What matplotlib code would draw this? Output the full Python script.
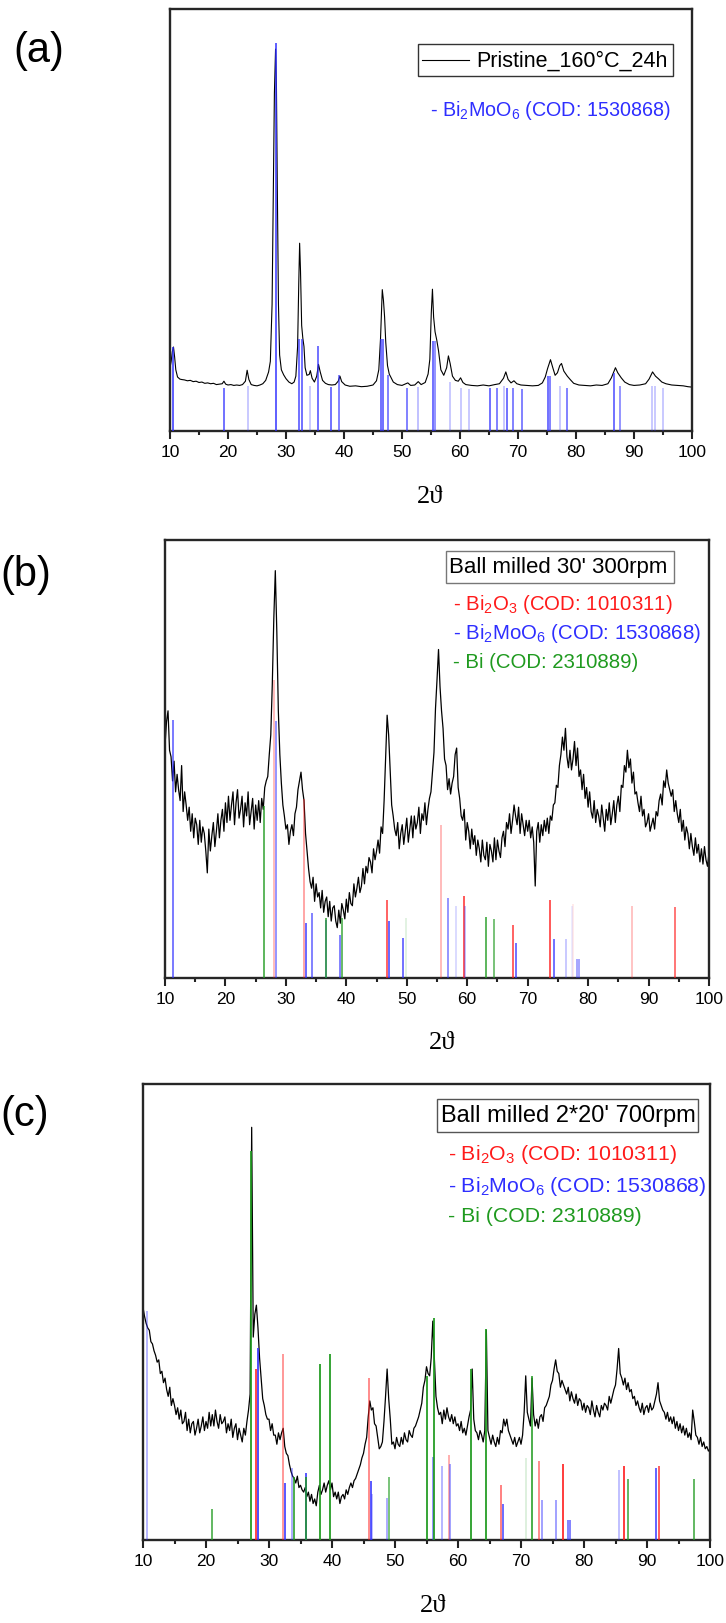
import numpy as np
import matplotlib
matplotlib.use("Agg")
import matplotlib.pyplot as plt
from matplotlib.colors import to_rgba
from matplotlib.patches import Rectangle
from matplotlib.lines import Line2D
from matplotlib.ticker import MultipleLocator

plt.rcParams['font.family'] = ['Liberation Sans', 'DejaVu Sans']
plt.rcParams['mathtext.fontset'] = 'custom'
plt.rcParams['mathtext.rm'] = 'Liberation Sans'
plt.rcParams['mathtext.it'] = 'Liberation Sans:italic'
plt.rcParams['mathtext.default'] = 'regular'

# ---------------- (a) pristine sample ----------------
a_two_theta = [
    10.0, 10.2, 10.4, 10.6, 10.8, 11.0, 11.3, 11.7, 12.0, 12.5, 13.0, 13.5, 14.0, 14.5,
    15.0, 15.5, 16.0, 16.5, 17.0, 17.5, 18.0, 18.5, 19.0, 19.3, 19.6, 20.0, 20.5, 21.0,
    21.5, 22.0, 22.5, 23.0, 23.3, 23.6, 24.0, 24.5, 25.0, 25.5, 26.0, 26.5, 27.0, 27.3,
    27.6, 27.8, 28.0, 28.2, 28.35, 28.5, 28.7, 28.9, 29.2, 29.6, 30.0, 30.5, 31.0, 31.4,
    31.7, 32.0, 32.2, 32.35, 32.5, 32.7, 32.9, 33.1, 33.3, 33.6, 34.0, 34.2, 34.5, 34.9,
    35.3, 35.6, 35.9, 36.3, 36.8, 37.3, 37.9, 38.5, 39.0, 39.3, 39.6, 40.2, 41.0, 42.0,
    43.0, 44.0, 45.0, 45.6, 46.0, 46.3, 46.6, 46.8, 47.0, 47.2, 47.5, 47.8, 48.5, 49.2,
    50.0, 51.0, 51.5, 52.2, 52.8, 53.3, 54.0, 54.5, 54.8, 55.05, 55.25, 55.45, 55.7, 56.0,
    56.3, 56.7, 57.2, 57.7, 58.0, 58.3, 58.7, 59.2, 59.7, 60.1, 60.5, 61.0, 62.0, 63.0,
    64.0, 65.0, 66.0, 66.8, 67.5, 67.9, 68.3, 68.8, 69.3, 69.8, 70.5, 71.5, 72.5, 73.5,
    74.2, 74.7, 75.1, 75.6, 76.0, 76.4, 76.8, 77.2, 77.5, 77.9, 78.5, 79.0, 79.6, 80.5,
    81.5, 82.5, 83.5, 84.5, 85.5, 86.1, 86.5, 86.8, 87.2, 87.8, 88.4, 89.2, 90.0, 91.0,
    92.0, 92.6, 93.2, 93.7, 94.2, 94.8, 95.5, 96.5, 97.5, 98.5, 99.3, 100.0,
]
a_counts = [
    15.0, 16.5, 18.8, 19.9, 17.5, 14.5, 12.8, 12.3, 12.2, 12.1, 11.9, 12.0, 11.7, 11.8,
    11.5, 11.6, 11.3, 11.4, 11.2, 11.3, 11.0, 11.1, 11.2, 11.8, 11.1, 10.9, 11.0, 10.8,
    10.9, 10.8, 11.0, 11.8, 14.4, 12.2, 11.0, 10.8, 10.7, 10.9, 11.2, 12.0, 14.0, 16.5,
    30.0, 55.0, 80.0, 90.5, 82.0, 58.0, 30.0, 18.0, 14.5, 13.3, 12.4, 11.6, 11.2, 11.6,
    13.0, 20.0, 35.0, 44.5, 38.0, 25.0, 22.0, 20.0, 15.0, 13.2, 13.4, 14.3, 12.5, 11.6,
    13.0, 15.8, 14.0, 12.0, 11.3, 11.0, 10.9, 11.0, 11.8, 13.0, 11.7, 10.9, 10.6, 10.7,
    10.5, 10.6, 10.9, 11.9, 14.5, 22.0, 33.5, 31.0, 27.0, 21.0, 15.5, 13.5, 11.6, 11.0,
    10.8, 11.4, 10.8, 10.9, 11.7, 11.0, 11.5, 13.5, 17.0, 28.0, 33.6, 27.0, 23.5, 21.5,
    19.0, 14.5, 13.2, 15.0, 17.8, 16.0, 13.0, 12.0, 11.8, 12.6, 11.5, 11.0, 10.8, 10.7,
    10.9, 10.7, 11.0, 11.2, 12.5, 14.0, 12.2, 11.4, 11.9, 11.2, 10.9, 10.8, 10.7, 10.8,
    11.4, 12.8, 14.8, 16.9, 15.0, 13.2, 13.8, 15.5, 16.0, 14.2, 13.0, 12.2, 11.3, 10.9,
    10.8, 10.7, 10.9, 10.8, 11.2, 12.6, 14.0, 15.0, 13.8, 12.6, 11.6, 11.0, 10.8, 10.9,
    11.2, 12.3, 14.0, 13.0, 12.4, 11.6, 11.2, 10.9, 10.8, 10.7, 10.5, 10.4,
]
a_bi2moo6_pos = [10.6, 19.3, 23.4, 28.2, 32.3, 32.8, 34.2, 35.6, 37.8, 39.2, 46.3, 46.7,
                 47.6, 50.9, 52.7, 55.4, 55.7, 58.2, 60.2, 61.5, 65.1, 66.3, 67.5, 68.1,
                 69.2, 70.7, 75.1, 75.6, 77.3, 78.5, 86.6, 87.5, 93.1, 93.6, 95.0]
a_bi2moo6_int = [19.8, 10.3, 10.7, 92.0, 21.8, 21.8, 10.6, 20.2, 10.4, 13.2, 21.8, 21.8,
                 13.2, 10.3, 10.4, 21.4, 21.4, 11.5, 10.3, 9.9, 10.3, 10.3, 10.6, 10.3,
                 10.3, 9.9, 13.0, 13.0, 10.6, 10.3, 13.8, 10.6, 10.6, 10.6, 10.3]
a_bi2moo6_shade = [0.9, 0.8, 0.3, 0.9, 0.8, 0.8, 0.3, 0.8, 0.8, 0.7, 0.8, 0.8,
                   0.7, 0.7, 0.35, 0.8, 0.6, 0.3, 0.3, 0.3, 0.8, 0.7, 0.3, 0.8,
                   0.7, 0.7, 0.8, 0.7, 0.3, 0.7, 0.8, 0.6, 0.3, 0.3, 0.3]

# ---------------- (b) ball milled 30' 300 rpm (0.25 deg steps) ----------------
b_counts = [
    53.0, 58.5, 61.0, 52.0,  50.5, 45.0, 49.5, 42.5,  46.5, 43.0, 40.5, 48.5,
    38.0, 42.5, 39.5, 36.0,  39.0, 33.5, 37.5, 32.0,  36.5, 35.0, 30.5, 36.0,
    31.0, 34.5, 33.0, 29.0,  24.0, 34.0, 29.0, 32.5,  35.5, 30.0, 33.5, 37.5,
    32.0, 36.0, 38.5, 33.5,  40.0, 35.5, 41.5, 36.0,  39.5, 42.5, 35.0, 40.0,
    43.0, 36.5, 38.5, 41.5,  34.5, 40.0, 37.0, 42.5,  35.0, 38.0, 41.0, 34.0,
    39.5, 36.0, 40.5, 35.5,  41.0, 38.5, 43.5, 45.0,  46.0, 51.0, 55.5, 67.0,
    82.0, 93.0, 79.0, 61.0,  51.0, 44.5, 39.5, 37.0,  34.0, 35.0, 30.5, 33.5,
    35.0, 32.5, 37.5, 39.0,  43.0, 45.0, 47.0, 43.0,  40.5, 33.0, 29.0, 25.0,
    22.0, 20.5, 23.0, 17.5,  21.5, 18.5, 19.5, 16.0,  20.0, 15.0, 17.5, 18.5,
    14.0, 17.5, 13.0, 16.0,  16.5, 13.0, 11.5, 15.5,  12.5, 17.0, 15.5, 13.5,
    18.0, 15.0, 19.5, 17.0,  16.5, 21.5, 18.5, 20.5,  23.0, 19.5, 21.0, 25.0,
    21.5, 25.5, 24.0, 27.5,  26.5, 24.0, 29.5, 27.0,  29.0, 31.5, 28.5, 34.5,
    33.0, 40.5, 50.5, 60.0,  55.5, 47.5, 39.5, 37.0,  34.0, 32.5, 35.5, 29.5,
    33.0, 35.0, 30.5, 33.5,  36.5, 31.0, 34.0, 37.0,  32.0, 37.0, 34.0, 35.5,
    39.0, 33.0, 37.5, 36.0,  40.0, 35.0, 38.5, 41.0,  42.5, 47.0, 51.5, 61.5,
    68.0, 75.0, 66.5, 61.0,  57.0, 50.0, 48.5, 43.0,  45.5, 42.0, 44.5, 46.0,
    51.0, 52.5, 43.5, 41.0,  37.0, 36.0, 38.5, 31.5,  35.5, 33.5, 29.5, 34.0,
    30.5, 32.5, 28.0, 31.5,  29.5, 26.5, 31.5, 28.0,  27.0, 31.0, 25.5, 30.5,
    29.0, 26.5, 32.0, 27.0,  31.5, 29.0, 27.5, 32.0,  33.5, 30.0, 35.5, 34.0,
    37.5, 33.0, 36.0, 39.5,  37.0, 35.0, 39.0, 33.0,  37.5, 35.0, 32.5, 36.0,
    33.5, 36.0, 32.0, 34.5,  31.0, 21.0, 33.5, 35.5,  31.0, 35.0, 32.5, 36.0,
    33.5, 36.5, 33.0, 37.0,  36.0, 39.5, 40.0, 44.0,  43.5, 48.5, 51.0, 55.0,
    52.0, 57.0, 50.5, 48.0,  52.0, 47.5, 50.0, 54.0,  48.5, 52.5, 46.0, 47.5,
    43.0, 46.5, 41.0, 43.5,  39.0, 42.5, 38.0, 36.5,  40.5, 35.5, 38.5, 37.0,
    34.5, 39.5, 36.5, 33.5,  38.5, 36.0, 40.0, 35.0,  37.5, 40.5, 35.5, 39.5,
    41.5, 38.0, 44.0, 43.5,  48.5, 47.0, 52.0, 48.0,  50.0, 44.5, 47.0, 42.0,
    42.5, 40.0, 38.0, 41.5,  37.0, 38.5, 34.5, 35.5,  37.5, 33.5, 35.0, 36.5,
    34.0, 38.0, 37.0, 40.5,  42.0, 39.5, 45.0, 43.5,  47.5, 44.5, 43.0, 41.5,
    43.0, 38.0, 40.5, 37.5,  35.5, 38.5, 33.5, 36.0,  31.5, 34.5, 33.0, 29.5,
    33.0, 30.0, 28.0, 32.0,  28.5, 30.5, 26.5, 29.5,  26.0, 30.0, 27.0, 25.5,
    28.5,
]
b_bi2o3_pos = [28.0, 33.0, 46.8, 55.7, 59.4, 67.6, 73.7, 77.5, 87.3, 94.4]
b_bi2o3_int = [68.0, 40.8, 17.9, 35.0, 18.7, 12.2, 17.7, 17.0, 16.4, 16.2]
b_bi2o3_shade = [0.35, 0.45, 0.8, 0.35, 0.85, 0.8, 0.85, 0.1, 0.3, 0.7]
b_bi2moo6_pos = [11.4, 28.3, 33.4, 34.4, 36.6, 38.9, 47.1, 49.4, 56.8, 58.2, 59.7,
                 68.0, 74.4, 76.4, 77.4, 78.2, 78.5]
b_bi2moo6_int = [59.0, 58.7, 12.6, 14.9, 13.3, 9.9, 13.0, 9.1, 18.3, 16.4, 16.4,
                 8.0, 8.8, 8.8, 16.4, 4.3, 4.3]
b_bi2moo6_shade = [0.75, 0.6, 0.85, 0.7, 0.6, 0.7, 0.85, 0.8, 0.6, 0.2, 0.35,
                   0.8, 0.8, 0.3, 0.1, 0.5, 0.5]
b_bi_pos = [26.3, 36.6, 39.3, 49.9, 63.1, 64.4]
b_bi_int = [39.3, 13.7, 13.7, 13.6, 13.9, 13.5]
b_bi_shade = [0.85, 0.85, 0.8, 0.15, 0.85, 0.7]

# ---------------- (c) ball milled 2*20' 700 rpm (0.25 deg steps) ----------------
c_counts = [
    51.0, 49.0, 47.5, 46.5,  46.0, 43.5, 43.0, 41.5,  40.5, 39.0, 39.5, 36.5,
    37.0, 34.5, 35.5, 33.0,  31.5, 33.5, 29.5, 31.0,  29.5, 27.5, 29.0, 26.5,
    28.5, 25.5, 26.0, 28.0,  24.0, 26.5, 23.5, 25.5,  26.0, 23.0, 24.5, 26.5,
    23.5, 25.0, 27.0, 24.0,  26.0, 24.5, 28.0, 25.0,  27.5, 25.0, 28.5, 26.0,
    24.5, 27.5, 25.5, 26.0,  27.0, 23.5, 25.5, 24.0,  26.5, 22.5, 24.5, 25.5,
    22.0, 24.5, 23.0, 21.5,  24.5, 23.0, 26.0, 28.5,  32.0, 90.5, 44.5, 49.5,
    51.5, 46.5, 40.0, 35.5,  31.0, 29.5, 27.5, 26.5,  26.5, 24.0, 25.5, 23.0,
    23.0, 21.0, 23.5, 22.0,  23.5, 24.5, 20.5, 19.0,  18.5, 16.5, 15.0, 14.0,
    13.5, 12.5, 14.0, 11.5,  12.0, 11.0, 10.5, 11.5,  9.5, 10.5, 8.5, 10.0,
    8.0, 9.0, 7.5, 10.5,  12.0, 10.0, 11.0, 12.5,  10.5, 12.0, 13.0, 11.0,
    12.5, 9.5, 10.5, 9.0,  10.5, 8.0, 9.5, 10.0,  9.0, 11.0, 10.0, 11.5,
    12.5, 11.5, 13.0, 13.5,  14.5, 15.5, 16.5, 18.0,  19.0, 21.0, 22.5, 27.0,
    30.5, 28.5, 29.0, 25.5,  25.0, 22.5, 20.0, 20.5,  21.5, 26.0, 31.5, 37.5,
    31.0, 26.5, 21.0, 21.5,  20.0, 22.5, 21.0, 20.5,  22.5, 21.0, 23.5, 22.0,
    21.5, 24.0, 23.0, 22.5,  24.5, 25.0, 26.0, 27.0,  28.5, 30.0, 33.5, 35.0,
    38.0, 36.5, 36.0, 40.0,  48.0, 40.0, 31.5, 29.0,  27.5, 28.0, 25.5, 28.5,
    26.5, 29.0, 27.0, 26.0,  27.5, 25.5, 27.0, 25.0,  25.5, 24.0, 26.0, 23.5,
    24.5, 23.0, 25.0, 27.0,  28.5, 37.5, 26.5, 24.0,  23.5, 22.0, 24.0, 23.0,
    21.5, 24.0, 46.0, 24.0,  22.5, 21.0, 23.0, 21.5,  20.5, 22.5, 21.0, 24.0,
    23.5, 26.5, 25.0, 26.5,  24.0, 23.0, 22.0, 21.0,  22.5, 20.5, 21.5, 22.5,
    21.0, 23.0, 28.0, 36.0,  28.0, 26.5, 25.0, 35.5,  27.5, 25.0, 26.5, 24.5,
    27.0, 27.5, 26.0, 29.0,  29.5, 30.5, 31.5, 34.0,  35.0, 37.5, 39.5, 37.0,
    36.5, 33.5, 35.0, 34.0,  33.0, 32.0, 33.5, 30.5,  32.5, 31.0, 30.0, 32.0,
    29.5, 31.0, 30.5, 28.5,  30.0, 28.0, 29.5, 29.0,  27.5, 30.5, 28.5, 27.0,
    29.5, 28.0, 27.0, 29.5,  28.5, 30.0, 29.5, 28.5,  31.5, 30.0, 31.5, 33.0,
    34.0, 37.5, 42.0, 36.5,  35.5, 34.0, 35.5, 33.0,  34.5, 32.5, 33.0, 31.0,
    31.5, 29.5, 30.5, 29.0,  28.0, 30.0, 27.5, 29.0,  29.5, 28.0, 30.0, 28.5,
    29.0, 30.5, 32.0, 34.5,  30.5, 29.5, 28.5, 28.0,  26.5, 28.0, 26.0, 27.0,
    25.5, 27.0, 24.5, 26.0,  24.0, 25.5, 23.5, 25.0,  23.0, 24.5, 22.5, 23.5,
    22.0, 28.5, 26.0, 23.0,  22.5, 21.0, 22.5, 20.5,  21.5, 20.0, 20.5, 19.5,
    20.0,
]
c_bi2o3_pos = [27.9, 32.2, 45.9, 58.6, 66.8, 72.8, 76.7, 86.3, 91.9]
c_bi2o3_int = [37.5, 40.8, 35.5, 18.7, 12.1, 17.4, 16.6, 16.2, 16.2]
c_bi2o3_shade = [0.8, 0.45, 0.5, 0.35, 0.55, 0.5, 0.85, 0.85, 0.7]
c_bi2moo6_pos = [10.7, 28.3, 32.5, 33.6, 35.8, 46.2, 46.4, 48.7, 56.1, 57.4, 58.8,
                 67.1, 73.4, 75.6, 77.4, 77.7, 85.5, 91.4]
c_bi2moo6_int = [50.2, 42.0, 12.5, 15.8, 14.6, 12.9, 10.0, 9.3, 18.3, 16.2, 16.6,
                 8.0, 8.8, 8.8, 4.3, 4.3, 15.4, 15.8]
c_bi2moo6_shade = [0.35, 0.85, 0.8, 0.4, 0.8, 0.8, 0.3, 0.4, 0.5, 0.35, 0.45,
                   0.7, 0.45, 0.45, 0.6, 0.6, 0.3, 0.75]
c_bi_pos = [21.0, 27.1, 33.9, 35.9, 38.1, 39.7, 49.0, 55.0, 56.2, 62.1, 64.5,
            70.8, 71.7, 87.0, 97.4]
c_bi_int = [6.8, 85.4, 13.8, 13.8, 38.7, 40.8, 13.8, 35.9, 48.6, 37.5, 46.3,
            18.0, 35.9, 13.3, 13.3]
c_bi_shade = [0.7, 0.9, 0.8, 0.8, 0.9, 0.9, 0.6, 0.9, 0.9, 0.9, 0.9,
              0.15, 0.8, 0.7, 0.7]

tick_values = [10, 20, 30, 40, 50, 60, 70, 80, 90, 100]
legend_titles = ["Pristine_160°C_24h", "Ball milled 30' 300rpm", "Ball milled 2*20' 700rpm"]
phase_labels = ["- Bi$_2$O$_3$ (COD: 1010311)",
                "- Bi$_2$MoO$_6$ (COD: 1530868)",
                "- Bi (COD: 2310889)"]

RED, BLUE, GREEN = '#ff1a1a', '#2e2eff', '#1f9a1f'

W, H = 726, 1624
fig = plt.figure(figsize=(W / 100, H / 100), dpi=100)


def fx(px):
    return px / W


def fy(py):
    return 1 - py / H


def make_panel(box, x, y, refs, lw_curve=0.8, lw_ref=1.2):
    l, t, r, b = box
    ax = fig.add_axes([fx(l), fy(b), (r - l) / W, (b - t) / H])
    ax.plot(x, y, color='black', lw=lw_curve, zorder=2)
    for pos, hts, shades, col in refs:
        cols = [to_rgba(col, s) for s in shades]
        ax.vlines(pos, 0, hts, colors=cols, lw=lw_ref, zorder=3)
    ax.set_xlim(10, 100)
    ax.set_ylim(0, 100)
    ax.set_yticks([])
    ax.set_xticks(tick_values)
    ax.xaxis.set_minor_locator(MultipleLocator(5))
    ax.tick_params(axis='x', which='major', direction='out', length=5.5, width=1.5,
                   labelsize=12.5, pad=4, color='#222222')
    ax.tick_params(axis='x', which='minor', direction='out', length=3, width=1.5,
                   color='#222222')
    for s in ax.spines.values():
        s.set_linewidth(1.7)
        s.set_color('#262626')
    return ax


def legend_frame(l, t, r, b, edge):
    fig.patches.append(Rectangle((fx(l), fy(b)), (r - l) / W, (b - t) / H,
                                 transform=fig.transFigure, facecolor='white',
                                 edgecolor=edge, lw=1.0, zorder=5))


# (a)
make_panel((170, 10, 692, 432), a_two_theta, a_counts,
           [(a_bi2moo6_pos, a_bi2moo6_int, a_bi2moo6_shade, BLUE)])
legend_frame(418, 45, 673, 77, '#333333')
fig.lines.append(Line2D([fx(422), fx(469)], [fy(61), fy(61)], transform=fig.transFigure,
                        color='black', lw=0.8, zorder=6))
fig.text(fx(476), fy(61), legend_titles[0], fontsize=15.5, va='center', ha='left', zorder=6)
fig.text(fx(430), fy(110), phase_labels[1], fontsize=14.2, color=BLUE, va='center', ha='left')

# (b)
b_two_theta = np.linspace(10, 100, len(b_counts))
make_panel((165, 541, 709, 979), b_two_theta, b_counts,
           [(b_bi2o3_pos, b_bi2o3_int, b_bi2o3_shade, RED),
            (b_bi2moo6_pos, b_bi2moo6_int, b_bi2moo6_shade, BLUE),
            (b_bi_pos, b_bi_int, b_bi_shade, GREEN)], lw_curve=0.9)
legend_frame(446, 552, 674, 584, '#777777')
fig.text(fx(449), fy(568), legend_titles[1], fontsize=16, va='center', ha='left', zorder=6)
for i, (lab, col) in enumerate(zip(phase_labels, [RED, BLUE, GREEN])):
    fig.text(fx(453), fy(605 + 29 * i), lab, fontsize=14.7, color=col, va='center', ha='left')

# (c)
c_two_theta = np.linspace(10, 100, len(c_counts))
make_panel((143, 1085, 710, 1541), c_two_theta, c_counts,
           [(c_bi2o3_pos, c_bi2o3_int, c_bi2o3_shade, RED),
            (c_bi2moo6_pos, c_bi2moo6_int, c_bi2moo6_shade, BLUE),
            (c_bi_pos, c_bi_int, c_bi_shade, GREEN)], lw_curve=0.9, lw_ref=1.4)
legend_frame(437, 1100, 698, 1133, '#555555')
fig.text(fx(441), fy(1116), legend_titles[2], fontsize=17, va='center', ha='left', zorder=6)
for i, (lab, col) in enumerate(zip(phase_labels, [RED, BLUE, GREEN])):
    fig.text(fx(448), fy(1155 + 31 * i), lab, fontsize=15.3, color=col, va='center', ha='left')

# axis titles and panel letters
serif = ['Liberation Serif', 'DejaVu Serif']
for xc, yc in [(430, 497), (442, 1043), (433, 1606)]:
    fig.text(fx(xc), fy(yc), "2\u03d1", family=serif, fontsize=19, ha='center', va='center')
for lab, xl, yc in [("(a)", 13, 51), ("(b)", 0, 575), ("(c)", 0, 1115)]:
    fig.text(fx(xl), fy(yc), lab, fontsize=30, ha='left', va='center')

fig.savefig("out.png", dpi=100)
